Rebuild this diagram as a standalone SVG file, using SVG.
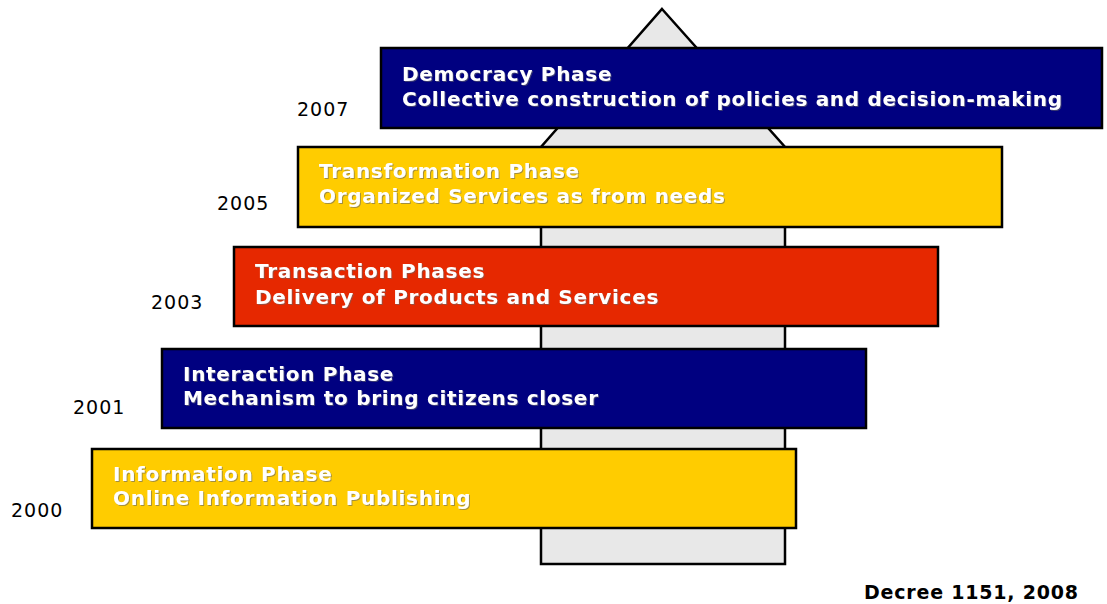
<svg xmlns="http://www.w3.org/2000/svg" width="1107" height="604" viewBox="0 0 1107 604">
  <style>
    .phase { stroke: #000; stroke-width: 2.5; }
    .blue { fill: #000080; }
    .yellow { fill: #ffcc00; }
    .red { fill: #e62800; }
    .label { font-family: "DejaVu Sans", Verdana, sans-serif; font-weight: bold; font-size: 20px; letter-spacing: 0.7px; fill: #fff; filter: url(#soft); }
    .year { font-family: "DejaVu Sans", Verdana, sans-serif; font-size: 19px; letter-spacing: 1px; fill: #000; }
    .source { font-family: "DejaVu Sans", Verdana, sans-serif; font-weight: bold; font-size: 19px; letter-spacing: 0.8px; fill: #000; }
  </style>
  <defs>
    <filter id="soft" x="-5%" y="-20%" width="110%" height="150%">
      <feDropShadow dx="1" dy="1" stdDeviation="0.4" flood-color="#666" flood-opacity="0.6"/>
    </filter>
  </defs>

  <rect width="1107" height="604" fill="#fff"/>

  <!-- upward arrow behind the phases -->
  <g id="arrow">
    <polygon points="662,9 785,147 785,564 541,564 541,147" fill="#e8e8e8" stroke="#000" stroke-width="2.5" stroke-linejoin="miter"/>
  </g>

  <g id="connectors"></g>

  <!-- phases, oldest at the bottom -->
  <g id="phase-2000">
    <rect class="phase yellow" x="92" y="449" width="704" height="79"/>
    <text class="label" x="113" y="481">Information Phase</text>
    <text class="label" x="113" y="505">Online Information Publishing</text>
    <text class="year" x="11" y="517">2000</text>
  </g>

  <g id="phase-2001">
    <rect class="phase blue" x="162" y="349" width="704" height="79"/>
    <text class="label" x="183" y="381">Interaction Phase</text>
    <text class="label" x="183" y="405">Mechanism to bring citizens closer</text>
    <text class="year" x="73" y="414">2001</text>
  </g>

  <g id="phase-2003">
    <rect class="phase red" x="234" y="247" width="704" height="79"/>
    <text class="label" x="255" y="278">Transaction Phases</text>
    <text class="label" x="255" y="304">Delivery of Products and Services</text>
    <text class="year" x="151" y="309">2003</text>
  </g>

  <g id="phase-2005">
    <rect class="phase yellow" x="298" y="147" width="704" height="80"/>
    <text class="label" x="319" y="178">Transformation Phase</text>
    <text class="label" x="319" y="203">Organized Services as from needs</text>
    <text class="year" x="217" y="210">2005</text>
  </g>

  <g id="phase-2007">
    <rect class="phase blue" x="381" y="48" width="721" height="80"/>
    <text class="label" x="402" y="81">Democracy Phase</text>
    <text class="label" x="402" y="106">Collective construction of policies and decision-making</text>
    <text class="year" x="297" y="116">2007</text>
  </g>

  <text class="source" x="864" y="599">Decree 1151, 2008</text>
</svg>
